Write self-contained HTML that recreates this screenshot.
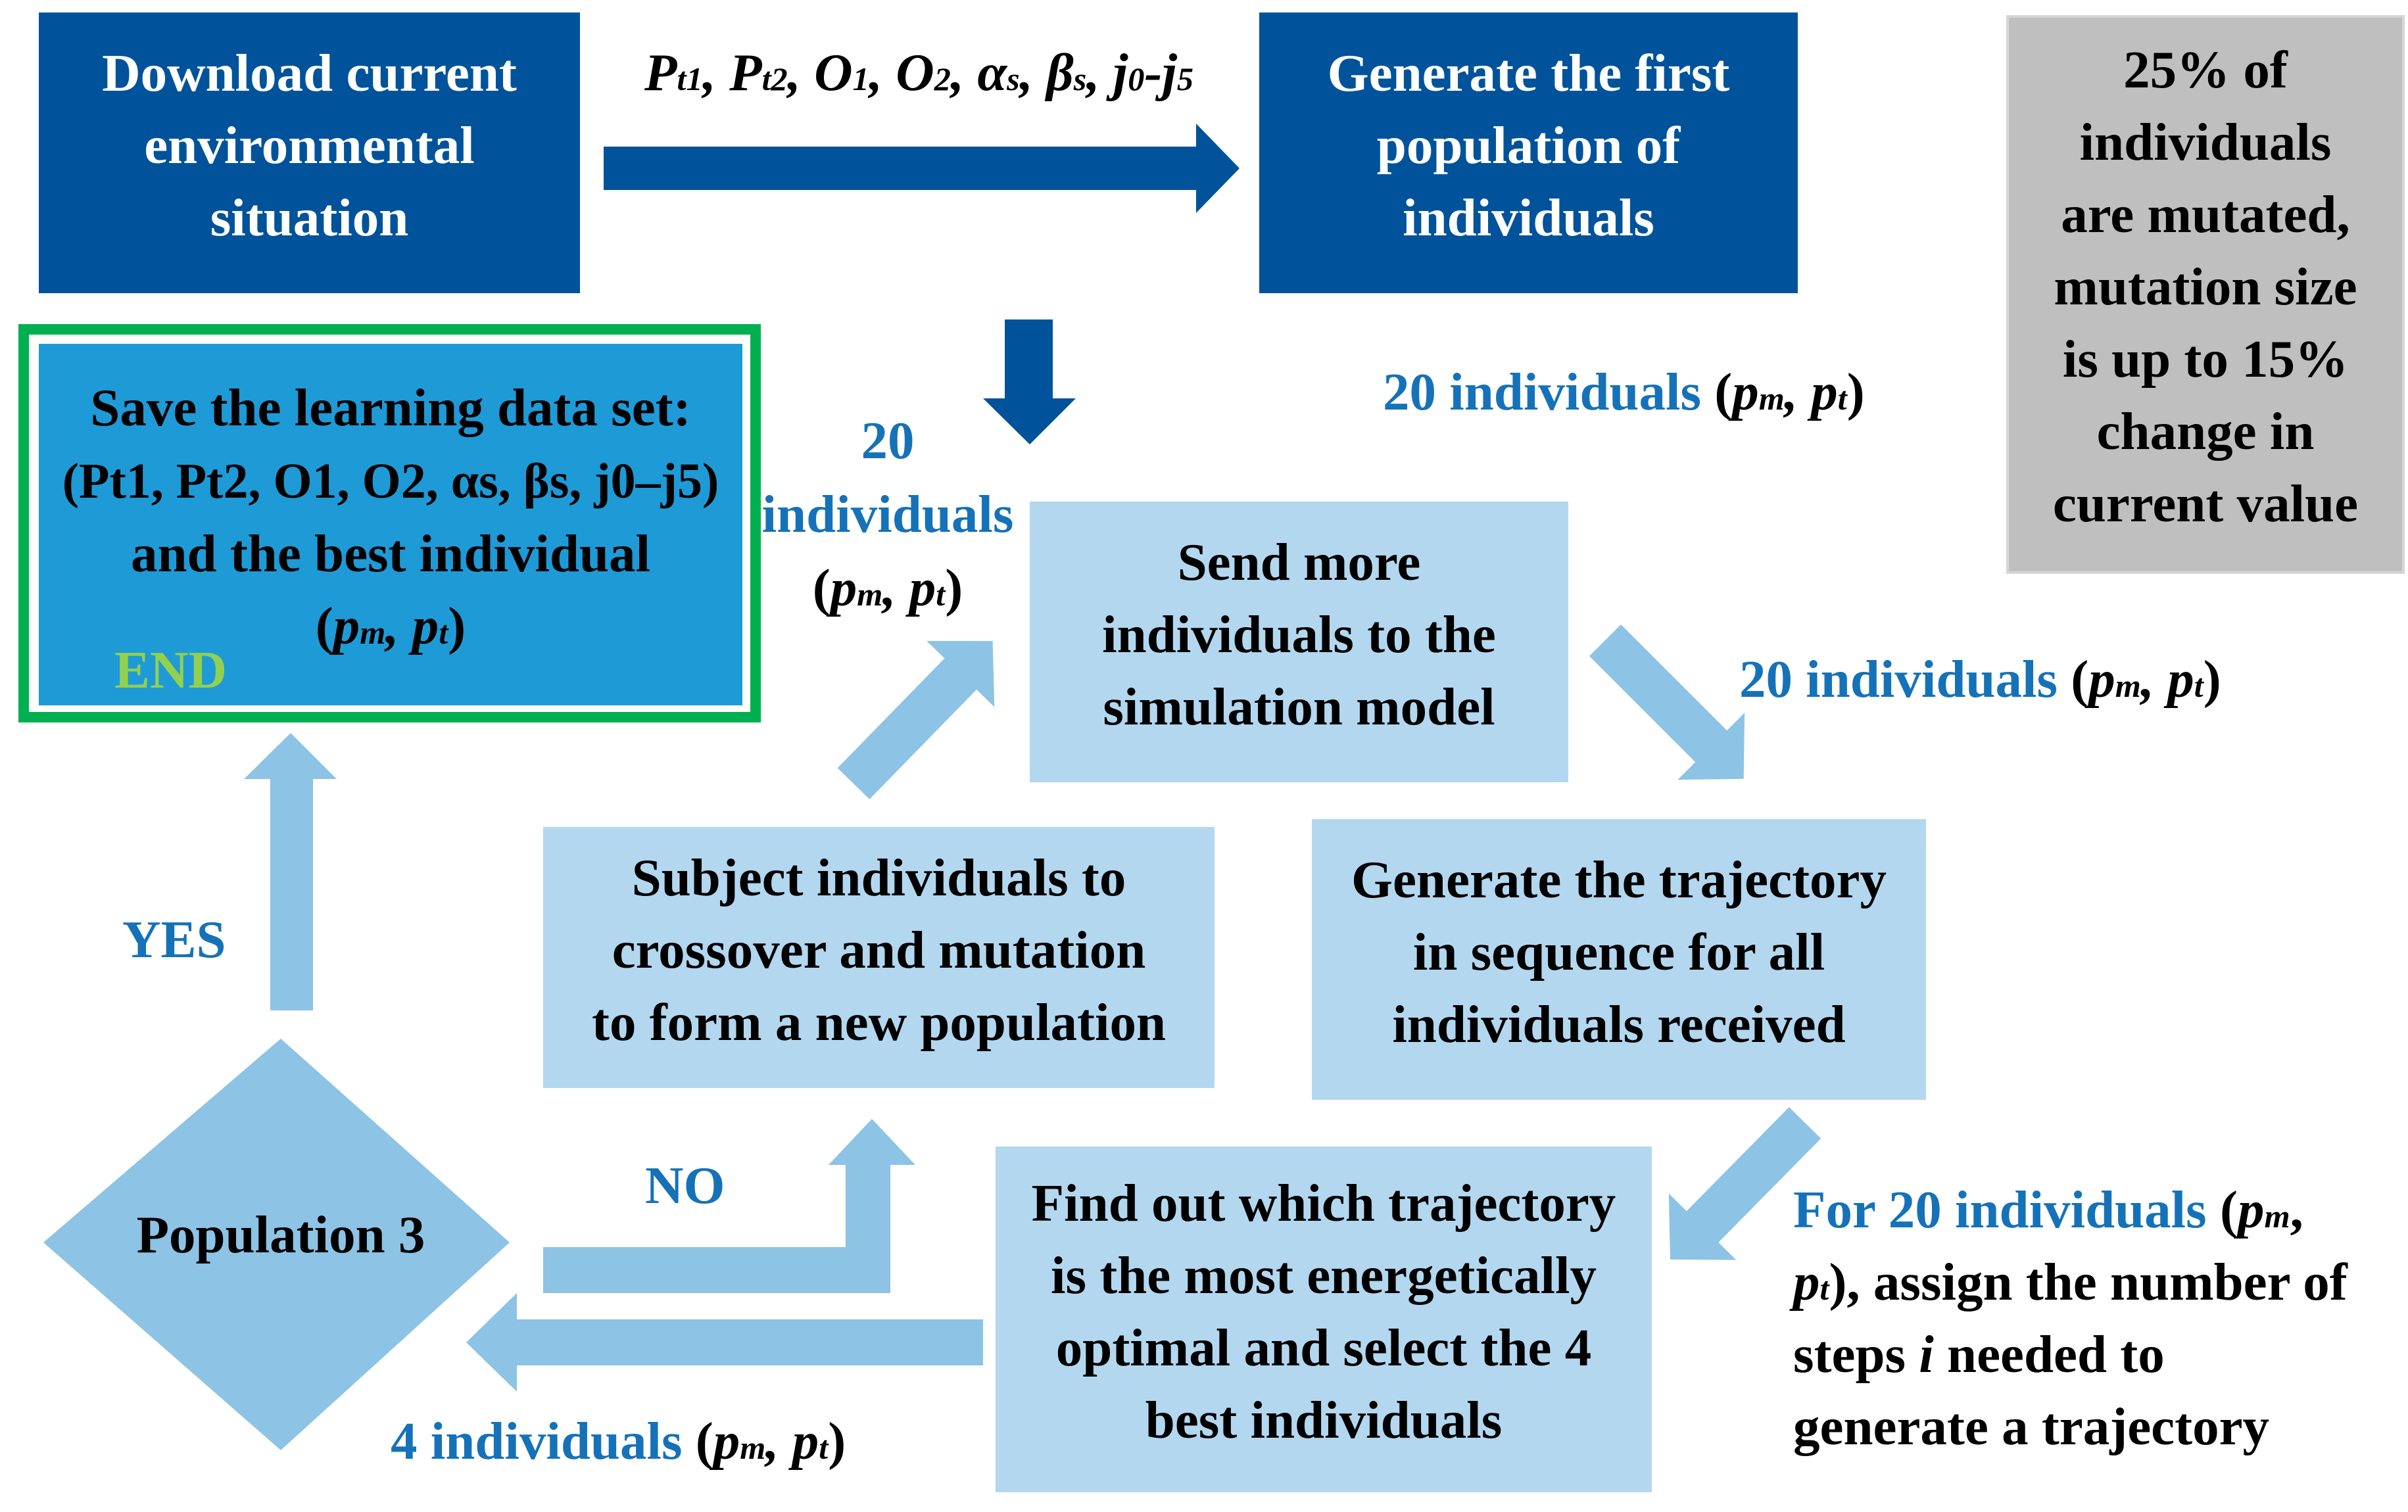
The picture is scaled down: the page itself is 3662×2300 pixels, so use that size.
<!DOCTYPE html>
<html><head><meta charset="utf-8"><style>
body{margin:0;width:3662px;height:2300px;background:#fff;position:relative;overflow:hidden;font-family:"Liberation Serif",serif;font-weight:bold;font-size:81px;}
.b{position:absolute;display:flex;align-items:center;justify-content:center;text-align:center;line-height:110px;box-sizing:border-box;}
.b>div{white-space:nowrap;transform:translateY(-12px);}
.t{position:absolute;line-height:110px;white-space:nowrap;}
.s{font-size:0.62em;line-height:0;}
.blue{color:#1572b8;}
i{font-weight:bold;}
</style></head><body>
<svg width="3662" height="2300" style="position:absolute;left:0;top:0">
<polygon points="918,223 1819,223 1819,188 1885,256 1819,324 1819,289 918,289" fill="#00539b"/>
<polygon points="1528,486 1601,486 1601,606 1636,606 1566,676 1495,606 1528,606" fill="#00539b"/>
<polygon points="66,1890 427,1580 775,1890 427,2206" fill="#8dc3e5"/>
<polygon points="411,1537 476,1537 476,1185 512,1185 442,1115 371,1185 411,1185" fill="#8dc3e5"/>
<polygon points="826,1897 1286,1897 1286,1772 1260,1772 1326,1702 1392,1772 1354,1772 1354,1967 826,1967" fill="#8dc3e5"/>
<polygon points="1495,2007 786,2007 786,1967 709,2042 786,2117 786,2077 1495,2077" fill="#8dc3e5"/>
<g transform="translate(1298,1192) rotate(-45.7)"><polygon points="0,-34 233,-34 233,-72 303,0 233,72 233,34 0,34" fill="#8dc3e5"/></g>
<g transform="translate(2441,974) rotate(45)"><polygon points="0,-34 228,-34 228,-72 298,0 228,72 228,34 0,34" fill="#8dc3e5"/></g>
<g transform="translate(2745,1708) rotate(134.6)"><polygon points="0,-34 222,-34 222,-72 292,0 222,72 222,34 0,34" fill="#8dc3e5"/></g>
</svg>

<div class="b" style="left:59px;top:19px;width:823px;height:427px;background:#00539b;color:#fff"><div>Download current<br>environmental<br>situation</div></div>
<div class="t" style="left:975px;top:55px;width:845px;text-align:center"><i>P<span class="s">t1</span>, P<span class="s">t2</span>, O<span class="s">1</span>, O<span class="s">2</span>, α<span class="s">s</span>, β<span class="s">s</span>, j<span class="s">0</span>-j<span class="s">5</span></i></div>
<div class="b" style="left:1915px;top:19px;width:819px;height:427px;background:#00539b;color:#fff"><div>Generate the first<br>population of<br>individuals</div></div>
<div class="b" style="left:3051px;top:23px;width:606px;height:850px;background:#bfbfbf;border:4px solid #d6d6d6"><div>25% of<br>individuals<br>are mutated,<br>mutation size<br>is up to 15%<br>change in<br>current value</div></div>
<div class="t" style="left:2103px;top:541px"><span class="blue">20 individuals</span> (<i>p<span class="s">m</span>, p<span class="s">t</span></i>)</div>

<div style="position:absolute;left:28px;top:493px;width:1129px;height:606px;border:16px solid #00b050;box-sizing:border-box;"></div>
<div class="b" style="left:59px;top:523px;width:1070px;height:550px;background:#1e9ad6;"><div>Save the learning data set:<br><span style="font-size:76px">(Pt1, Pt2, O1, O2, αs, βs, j0–j5)</span><br>and the best individual<br>(<i>p<span class="s">m</span>, p<span class="s">t</span></i>)</div></div>
<div class="t" style="left:174px;top:964px;color:#92d050">END</div>

<div class="t" style="left:1150px;top:614px;width:400px;text-align:center;line-height:112px"><span class="blue">20<br>individuals</span><br>(<i>p<span class="s">m</span>, p<span class="s">t</span></i>)</div>
<div class="b" style="left:1566px;top:763px;width:819px;height:427px;background:#b3d7ef"><div>Send more<br>individuals to the<br>simulation model</div></div>
<div class="t" style="left:2645px;top:978px"><span class="blue">20 individuals</span> (<i>p<span class="s">m</span>, p<span class="s">t</span></i>)</div>
<div class="b" style="left:1995px;top:1246px;width:934px;height:427px;background:#b3d7ef"><div>Generate the trajectory<br>in sequence for all<br>individuals received</div></div>
<div class="b" style="left:826px;top:1258px;width:1021px;height:397px;background:#b3d7ef"><div>Subject individuals to<br>crossover and mutation<br>to form a new population</div></div>
<div class="b" style="left:1514px;top:1744px;width:998px;height:526px;background:#b3d7ef"><div>Find out which trajectory<br>is the most energetically<br>optimal and select the 4<br>best individuals</div></div>
<div class="t" style="left:2727px;top:1785px"><span class="blue">For 20 individuals</span> (<i>p<span class="s">m</span></i>,<br><i>p<span class="s">t</span></i>), assign the number of<br>steps <i>i</i> needed to<br>generate a trajectory</div>
<div class="t" style="left:67px;top:1823px;width:720px;text-align:center">Population 3</div>
<div class="t blue" style="left:186px;top:1374px">YES</div>
<div class="t blue" style="left:981px;top:1748px">NO</div>
<div class="t" style="left:594px;top:2137px"><span class="blue">4 individuals</span> (<i>p<span class="s">m</span>, p<span class="s">t</span></i>)</div>
</body></html>
